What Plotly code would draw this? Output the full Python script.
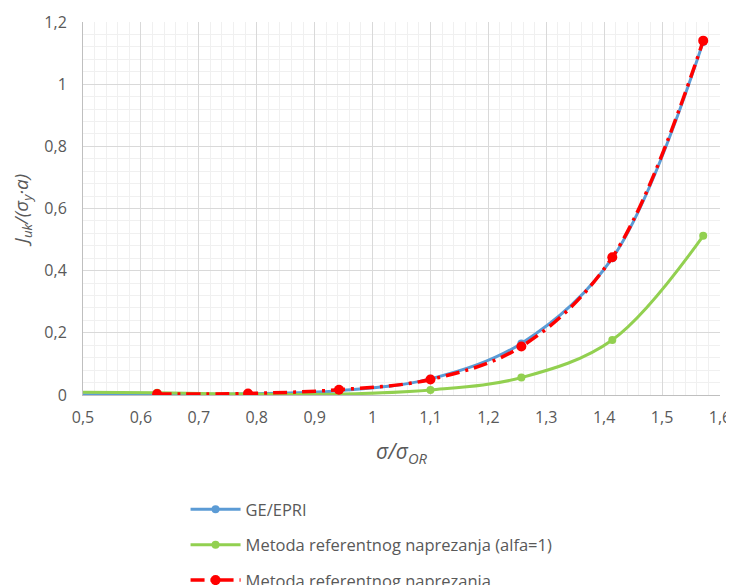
import plotly.graph_objects as go

x_vals = [0.471, 0.628, 0.785, 0.942, 1.100, 1.257, 1.414, 1.571]
ge_epri = [0.001, 0.002, 0.004, 0.014, 0.052, 0.166, 0.440, 1.136]
ref_alfa1 = [0.009, 0.007, 0.003, 0.003, 0.016, 0.056, 0.177, 0.512]
ref_method = [0.002, 0.003, 0.005, 0.017, 0.050, 0.156, 0.443, 1.140]

names = ["GE/EPRI", "Metoda referentnog naprezanja (alfa=1)", "Metoda referentnog naprezanja"]

x_ticks = [0.5, 0.6, 0.7, 0.8, 0.9, 1.0, 1.1, 1.2, 1.3, 1.4, 1.5, 1.6]
x_tick_text = ["0,5", "0,6", "0,7", "0,8", "0,9", "1", "1,1", "1,2", "1,3", "1,4", "1,5", "1,6"]
y_ticks = [0, 0.2, 0.4, 0.6, 0.8, 1.0, 1.2]
y_tick_text = ["0", "0,2", "0,4", "0,6", "0,8", "1", "1,2"]

fig = go.Figure()
fig.add_trace(go.Scatter(
    x=x_vals, y=ge_epri, name=names[0], mode="lines+markers",
    line=dict(color="#5B9BD5", width=3, shape="spline", smoothing=1.0),
    marker=dict(color="#5B9BD5", size=8), legendgroup="a", cliponaxis=True))
fig.add_trace(go.Scatter(
    x=x_vals, y=ref_alfa1, name=names[1], mode="lines+markers",
    line=dict(color="#92D050", width=3, shape="spline", smoothing=1.0),
    marker=dict(color="#92D050", size=8), legendgroup="b", cliponaxis=True))
fig.add_trace(go.Scatter(
    x=x_vals[1:], y=ref_method[1:], name=names[2], mode="lines+markers",
    line=dict(color="#FF0000", width=3.5, shape="spline", smoothing=1.0, dash="14px,6px,3px,6px"),
    marker=dict(color="#FF0000", size=10), legendgroup="c", cliponaxis=True))

tick_font = dict(family="Open Sans, Liberation Sans, sans-serif", size=16, color="#595959")
title_family = "Open Sans, Liberation Sans, sans-serif"

fig.update_layout(
    width=726, height=577,
    margin=dict(l=75, r=14, t=14, b=190),
    paper_bgcolor="white", plot_bgcolor="white",
    showlegend=True,
    legend=dict(orientation="v", x=0.161, xanchor="left", xref="paper",
                y=0.1612, yanchor="top", yref="container",
                font=dict(family="Open Sans, Liberation Sans, sans-serif", size=16.5, color="#595959"),
                tracegroupgap=11, itemwidth=50, bgcolor="rgba(0,0,0,0)"),
    xaxis=dict(range=[0.5, 1.6], tickvals=x_ticks, ticktext=x_tick_text, tickfont=tick_font,
               automargin=False,
               showgrid=True, gridcolor="#D9D9D9", gridwidth=1,
               minor=dict(dtick=0.02, showgrid=True, gridcolor="#F0F0F0", gridwidth=1, tick0=0.5),
               showline=True, linecolor="#BFBFBF", linewidth=1, zeroline=False, ticks="",
               ticklabelstandoff=8,
               title=dict(text="<i>σ/σ<sub>OR</sub></i>",
                          font=dict(family=title_family, size=21, color="#595959"),
                          standoff=17)),
    yaxis=dict(range=[0, 1.2], tickvals=y_ticks, ticktext=y_tick_text, tickfont=tick_font,
               automargin=False,
               showgrid=True, gridcolor="#D9D9D9", gridwidth=1,
               minor=dict(dtick=0.04, showgrid=True, gridcolor="#F0F0F0", gridwidth=1, tick0=0),
               showline=True, linecolor="#BFBFBF", linewidth=1, zeroline=False, ticks="",
               ticklabelstandoff=12,
               title=dict(text="<i>J<sub>uk</sub>/(σ<sub>y</sub>·a)</i>",
                          font=dict(family=title_family, size=19, color="#595959"),
                          standoff=16)),
)

fig.write_html(
    "out.html",
    post_script="document.documentElement.style.overflow='hidden';document.body.style.overflow='hidden';",
)
